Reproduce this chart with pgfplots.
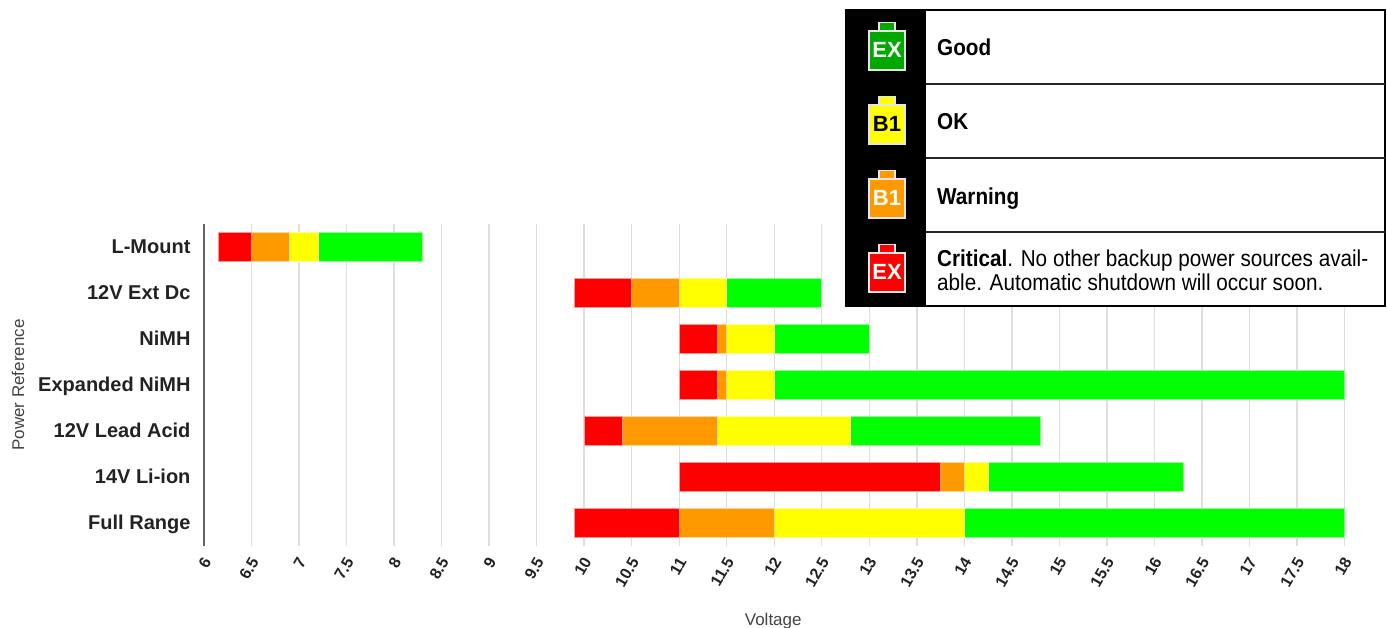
\documentclass[border=0pt]{standalone}
\usepackage{fontspec}
\setmainfont{Liberation Sans}
\newfontfamily\narrowf[FakeStretch=0.9]{Liberation Sans}
\usepackage{pgfplots}
\usepackage{pgfplotstable}
\pgfplotsset{compat=1.18}
\definecolor{cred}{HTML}{FF0000}
\definecolor{corange}{HTML}{FF9900}
\definecolor{cyellow}{HTML}{FFFF00}
\definecolor{cgreen}{HTML}{00FF00}
\definecolor{icongreen}{HTML}{00A800}
\definecolor{txt}{HTML}{222222}
\definecolor{axt}{HTML}{444444}
\pgfplotstableread{
y start red orange yellow green
6 6.15 0.35 0.4 0.3 1.1
5 9.9 0.6 0.5 0.5 1
4 11 0.4 0.1 0.5 1
3 11 0.4 0.1 0.5 6
2 10 0.4 1 1.4 2
1 11 2.75 0.25 0.25 2.05
0 9.9 1.1 1 2 4
}\voltdata
\newcommand{\battery}[4]{% y-top, fill, text colour, text
  \begin{scope}[shift={(887,#1)}]
    \filldraw[fill=#2,draw=black!10,line width=1.2pt] (-8,-21) rectangle (8,-12.5);
    \filldraw[fill=#2,draw=black!10,line width=1.5pt] (-18,-60) rectangle (18,-21);
    \node[font=\bfseries\fontsize{22}{22}\selectfont,text=#3,inner sep=0pt] at (0,-40) {#4};
  \end{scope}}
\begin{document}
\begin{tikzpicture}[x=1pt,y=1pt]
\useasboundingbox (0,0) rectangle (1387,628);
\begin{axis}[
  at={(204pt,82pt)}, anchor=south west,
  scale only axis, width=1140.5pt, height=322pt,
  xmin=6, xmax=18, ymin=-0.5, ymax=6.5,
  xbar stacked, bar width=28.5pt,
  axis x line=bottom, axis y line=left,
  x axis line style={draw=none,-},
  y axis line style={draw=black!60,line width=1.3pt,-},
  xmajorgrids, grid style={draw=black!13,line width=1.4pt},
  xtick distance=0.5, major tick length=0pt,
  ytick={0,1,2,3,4,5,6},
  yticklabels={Full Range,14V Li-ion,12V Lead Acid,Expanded NiMH,NiMH,12V Ext Dc,L-Mount},
  yticklabel style={font=\bfseries\fontsize{20}{20}\selectfont,text=txt,anchor=east,xshift=-10pt,yshift=-1.5pt,text height=14.5pt,text depth=4.2pt},
  xticklabel style={font=\bfseries\fontsize{16}{16}\selectfont,text=txt,rotate=60,anchor=east,xshift=-6pt,yshift=-9pt,text height=11.5pt,text depth=0.5pt,/pgf/number format/assume math mode=true},
  xticklabel={\pgfmathprintnumber[fixed,precision=1]{\tick}},
  xlabel={Voltage}, xlabel style={font=\fontsize{17}{17}\selectfont,text=axt,at={(axis description cs:0.5,0)},anchor=center,yshift=-75pt,xshift=-1pt},
  ylabel={Power Reference}, ylabel style={font=\fontsize{17}{17}\selectfont,text=axt,at={(axis description cs:0,0.5)},anchor=center,rotate=0,yshift=186pt},
  clip=true,
]
\addplot[draw=none,fill=none] table[x=start,y=y]{\voltdata};
\addplot[fill=cred,draw=white!60!cred,line width=0.7pt] table[x=red,y=y]{\voltdata};
\addplot[fill=corange,draw=white!60!corange,line width=0.7pt] table[x=orange,y=y]{\voltdata};
\addplot[fill=cyellow,draw=white!60!cyellow,line width=0.7pt] table[x=yellow,y=y]{\voltdata};
\addplot[fill=cgreen,draw=white!60!cgreen,line width=0.7pt] table[x=green,y=y]{\voltdata};
\end{axis}
% legend panel
\fill[white] (846,321) rectangle (1385,618);
\fill[black] (846,321) rectangle (926,618);
\draw[black,line width=2pt] (846,321.5) rectangle (1384.5,617.5);
\foreach \yy in {544,470,396}{\draw[black!85,line width=2pt] (926,\yy) -- (1385,\yy);}
\battery{618}{icongreen}{white}{EX}
\battery{544}{cyellow}{black}{B1}
\battery{470}{corange}{white}{B1}
\battery{396}{cred}{white}{EX}
\begin{scope}[every node/.style={anchor=base west,inner sep=0pt,text=black}]
\node[font=\narrowf\bfseries\fontsize{23}{23}\selectfont] at (937,572) {Good};
\node[font=\narrowf\bfseries\fontsize{23}{23}\selectfont] at (937,498) {OK};
\node[font=\narrowf\bfseries\fontsize{23}{23}\selectfont] at (937,423.5) {Warning};
\node[font=\narrowf\fontsize{23}{23}\selectfont] at (937,361) {\textbf{Critical}. No other backup power sources avail-};
\node[font=\narrowf\fontsize{23}{23}\selectfont] at (937,337) {able. Automatic shutdown will occur soon.};
\end{scope}
\end{tikzpicture}
\end{document}
